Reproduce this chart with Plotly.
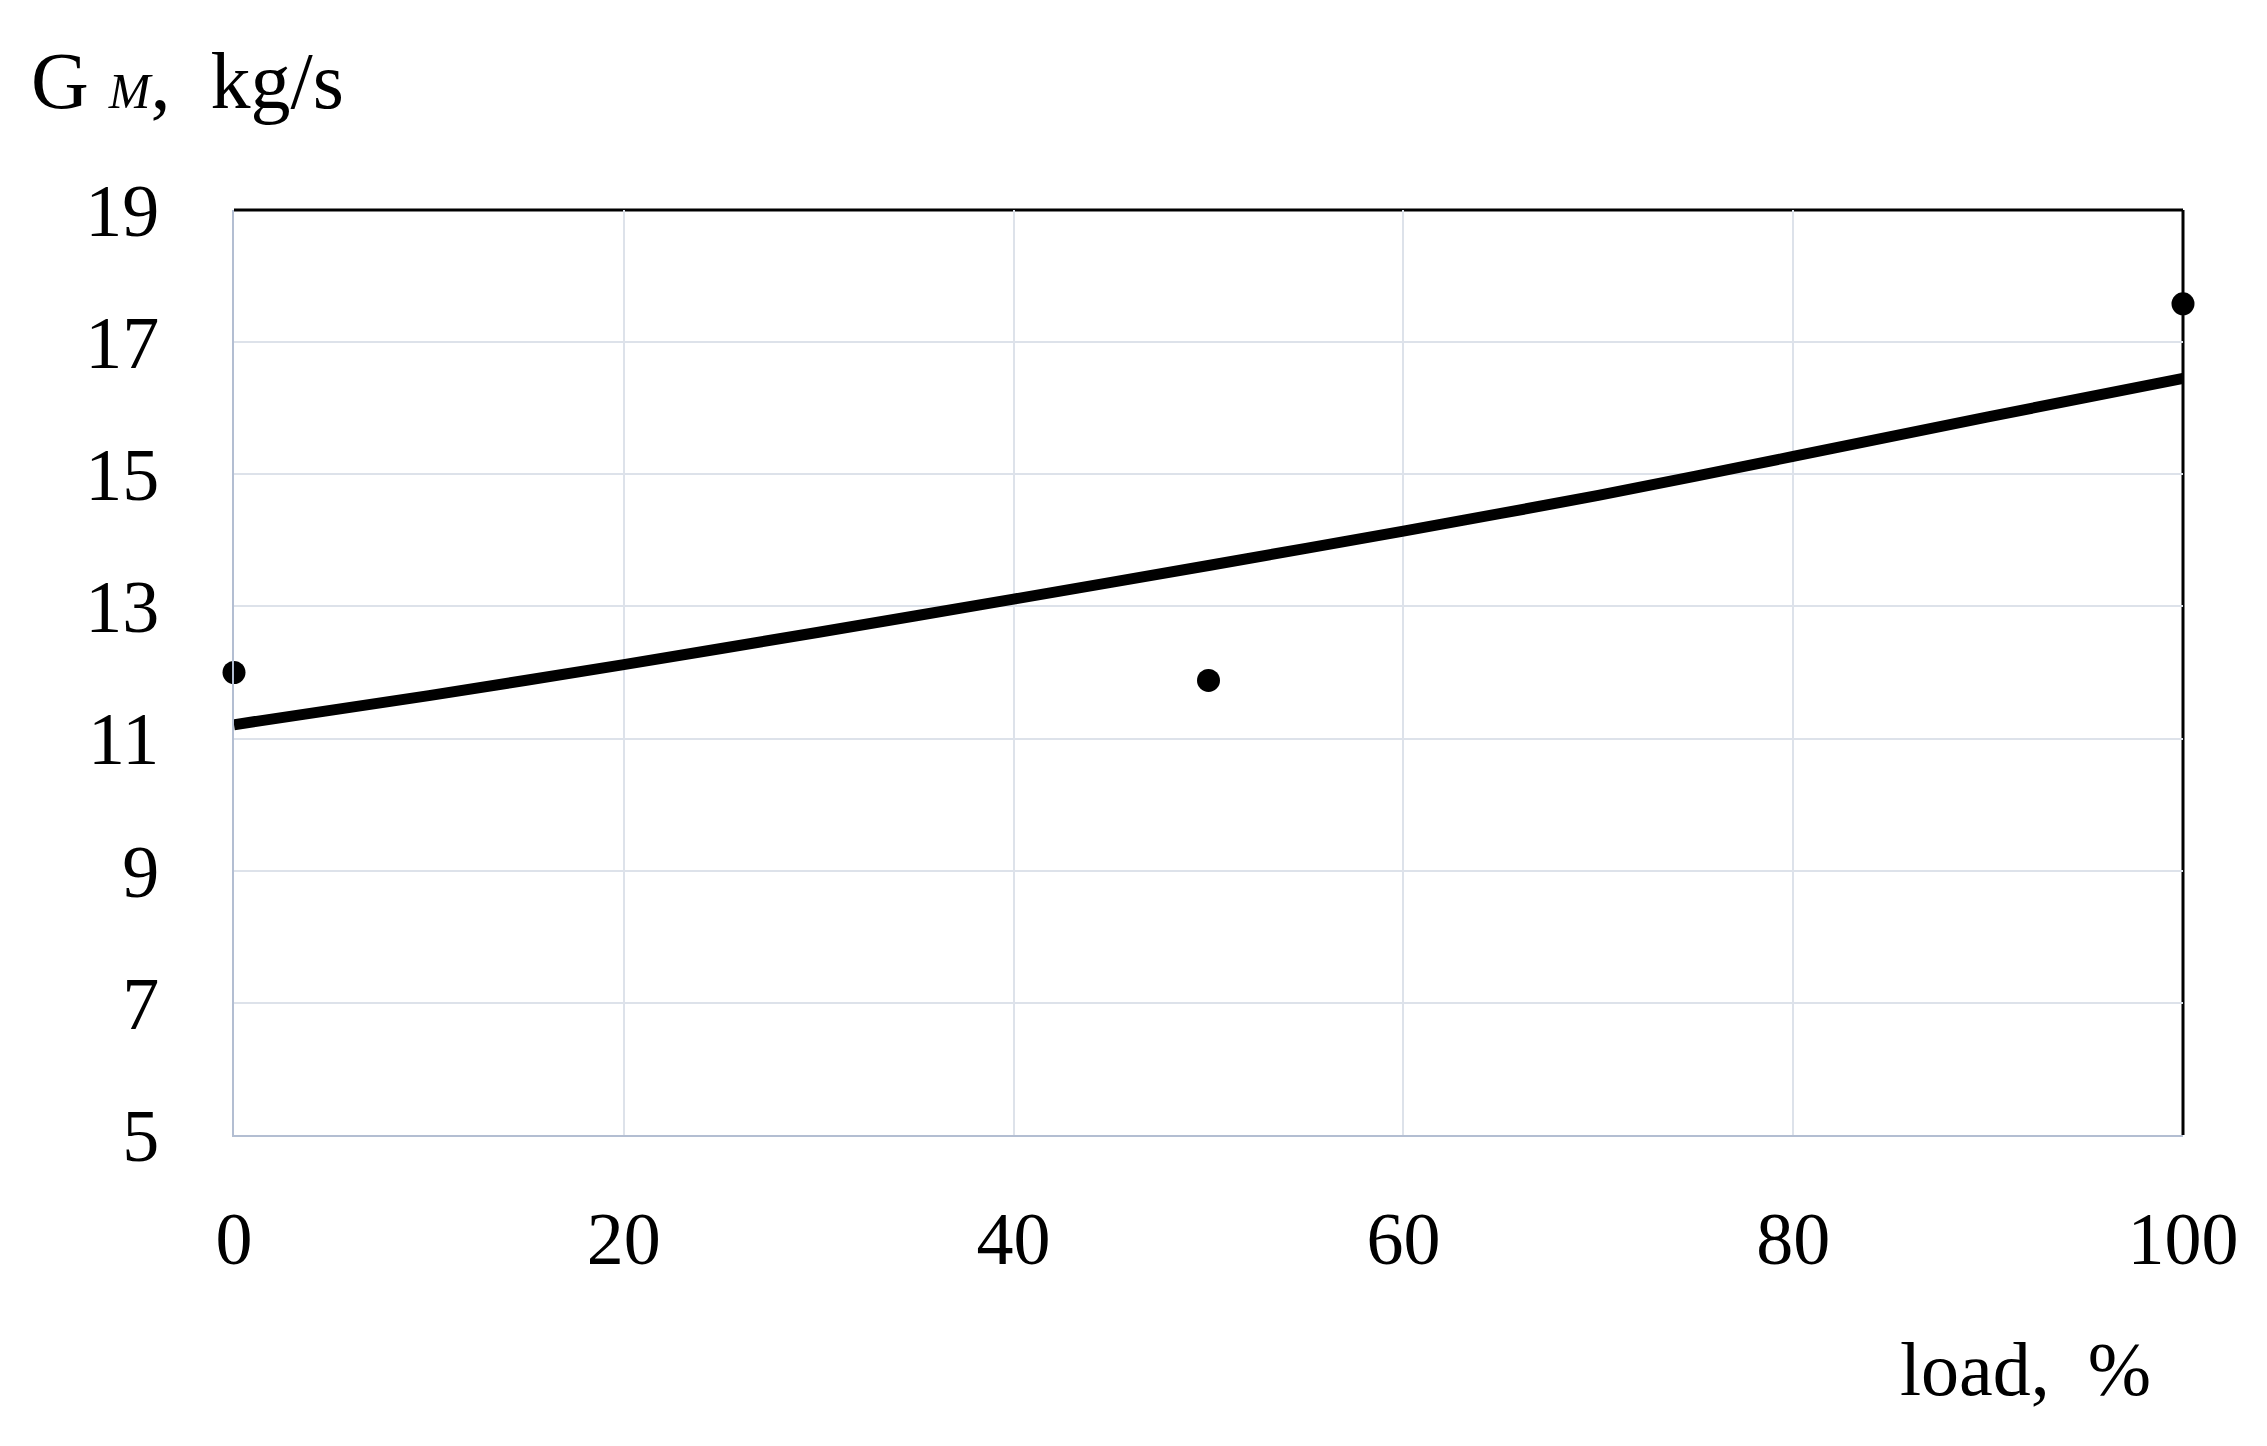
import plotly.graph_objects as go

# Data
load_curve = [0, 10, 20, 30, 40, 50, 60, 70, 80, 90, 100]
gm_curve = [11.21, 11.65, 12.12, 12.61, 13.11, 13.62, 14.14, 14.68, 15.27, 15.87, 16.45]

load_points = [0, 50, 100]
gm_points = [12.0, 11.88, 17.58]

x_ticks = [0, 20, 40, 60, 80, 100]
y_ticks = [5, 7, 9, 11, 13, 15, 17, 19]

FONT = "Liberation Serif"
GRID = "#dde2ea"
AXIS = "#b3bed2"

fig = go.Figure()
fig.add_trace(go.Scatter(
    x=load_curve, y=gm_curve, mode="lines",
    line=dict(color="black", width=11, shape="spline", smoothing=0.6),
    showlegend=False, hoverinfo="skip"))
fig.add_trace(go.Scatter(
    x=load_points, y=gm_points, mode="markers",
    marker=dict(color="black", size=23),
    cliponaxis=False, showlegend=False))

fig.update_layout(
    width=2259, height=1438,
    margin=dict(l=226, r=84, t=202, b=311),
    paper_bgcolor="white", plot_bgcolor="white",
    font=dict(family=FONT, size=74, color="black"),
    xaxis=dict(range=[0, 100], tickvals=x_ticks, ticktext=[str(v) for v in x_ticks],
               showgrid=True, gridcolor=GRID, gridwidth=2, zeroline=False,
               showline=True, linecolor=AXIS, linewidth=2,
               ticks="outside", ticklen=38, tickcolor="rgba(0,0,0,0)",
               tickfont=dict(family=FONT, size=74, color="black")),
    yaxis=dict(range=[5, 19], tickvals=y_ticks, ticktext=[str(v) for v in y_ticks],
               showgrid=True, gridcolor=GRID, gridwidth=2, zeroline=False,
               showline=True, linecolor=AXIS, linewidth=2,
               ticks="outside", ticklen=58, tickcolor="rgba(0,0,0,0)",
               tickfont=dict(family=FONT, size=74, color="black")),
    shapes=[
        dict(type="line", xref="paper", yref="paper", x0=0, x1=1, y0=1, y1=1,
             line=dict(color="black", width=3), layer="below"),
        dict(type="line", xref="paper", yref="paper", x0=1, x1=1, y0=0, y1=1,
             line=dict(color="black", width=3), layer="below"),
    ],
    annotations=[
        dict(text="G <span style='font-size:50px'><i>M</i></span>,&nbsp;&nbsp;kg/s",
             xref="paper", yref="paper",
             x=-0.105, y=1.14, xanchor="left", yanchor="middle", showarrow=False,
             font=dict(family=FONT, size=80, color="black")),
        dict(text="load,&nbsp;&nbsp;%", xref="paper", yref="paper",
             x=0.919, y=-0.253, xanchor="center", yanchor="middle", showarrow=False,
             font=dict(family=FONT, size=76, color="black")),
    ],
)

fig.write_html("out.html")
